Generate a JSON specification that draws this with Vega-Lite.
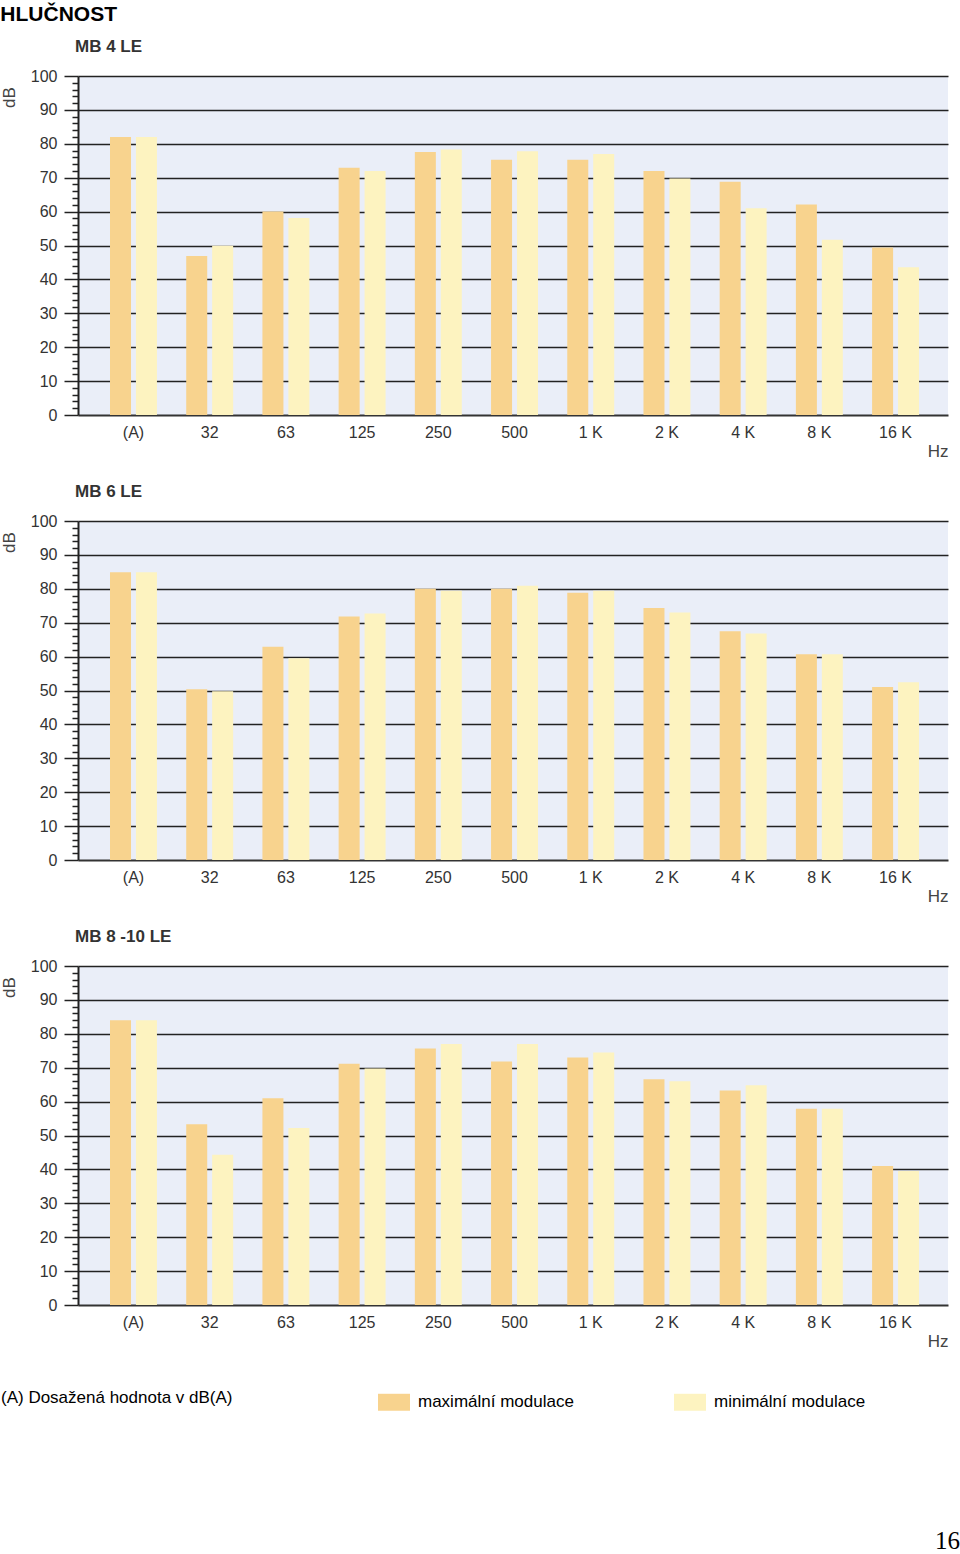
{
  "$schema": "https://vega.github.io/schema/vega-lite/v6.json",
  "padding": {"top": 4, "left": 0, "right": 0, "bottom": 0},
  "background": "#ffffff",
  "title": {"text": "HLUČNOST", "anchor": "start", "fontSize": 21, "fontWeight": "bold", "color": "#000000", "font": "Liberation Sans", "offset": 13},
  "spacing": 24,
  "datasets": {
    "noise": [
      {"p": "MB 4 LE", "f": "(A)", "s": "maximální modulace", "v": 82},
      {"p": "MB 4 LE", "f": "(A)", "s": "minimální modulace", "v": 82},
      {"p": "MB 4 LE", "f": "32", "s": "maximální modulace", "v": 46.9},
      {"p": "MB 4 LE", "f": "32", "s": "minimální modulace", "v": 49.9},
      {"p": "MB 4 LE", "f": "63", "s": "maximální modulace", "v": 60},
      {"p": "MB 4 LE", "f": "63", "s": "minimální modulace", "v": 58.1},
      {"p": "MB 4 LE", "f": "125", "s": "maximální modulace", "v": 72.9},
      {"p": "MB 4 LE", "f": "125", "s": "minimální modulace", "v": 72},
      {"p": "MB 4 LE", "f": "250", "s": "maximální modulace", "v": 77.6},
      {"p": "MB 4 LE", "f": "250", "s": "minimální modulace", "v": 78.3},
      {"p": "MB 4 LE", "f": "500", "s": "maximální modulace", "v": 75.3},
      {"p": "MB 4 LE", "f": "500", "s": "minimální modulace", "v": 77.8},
      {"p": "MB 4 LE", "f": "1 K", "s": "maximální modulace", "v": 75.3},
      {"p": "MB 4 LE", "f": "1 K", "s": "minimální modulace", "v": 77},
      {"p": "MB 4 LE", "f": "2 K", "s": "maximální modulace", "v": 72},
      {"p": "MB 4 LE", "f": "2 K", "s": "minimální modulace", "v": 69.8},
      {"p": "MB 4 LE", "f": "4 K", "s": "maximální modulace", "v": 68.8},
      {"p": "MB 4 LE", "f": "4 K", "s": "minimální modulace", "v": 61},
      {"p": "MB 4 LE", "f": "8 K", "s": "maximální modulace", "v": 62.1},
      {"p": "MB 4 LE", "f": "8 K", "s": "minimální modulace", "v": 51.7},
      {"p": "MB 4 LE", "f": "16 K", "s": "maximální modulace", "v": 49.4},
      {"p": "MB 4 LE", "f": "16 K", "s": "minimální modulace", "v": 43.6},
      {"p": "MB 6 LE", "f": "(A)", "s": "maximální modulace", "v": 84.9},
      {"p": "MB 6 LE", "f": "(A)", "s": "minimální modulace", "v": 84.9},
      {"p": "MB 6 LE", "f": "32", "s": "maximální modulace", "v": 50.4},
      {"p": "MB 6 LE", "f": "32", "s": "minimální modulace", "v": 49.8},
      {"p": "MB 6 LE", "f": "63", "s": "maximální modulace", "v": 62.9},
      {"p": "MB 6 LE", "f": "63", "s": "minimální modulace", "v": 59.5},
      {"p": "MB 6 LE", "f": "125", "s": "maximální modulace", "v": 71.8},
      {"p": "MB 6 LE", "f": "125", "s": "minimální modulace", "v": 72.7},
      {"p": "MB 6 LE", "f": "250", "s": "maximální modulace", "v": 80},
      {"p": "MB 6 LE", "f": "250", "s": "minimální modulace", "v": 79.4},
      {"p": "MB 6 LE", "f": "500", "s": "maximální modulace", "v": 80},
      {"p": "MB 6 LE", "f": "500", "s": "minimální modulace", "v": 80.9},
      {"p": "MB 6 LE", "f": "1 K", "s": "maximální modulace", "v": 78.8},
      {"p": "MB 6 LE", "f": "1 K", "s": "minimální modulace", "v": 79.4},
      {"p": "MB 6 LE", "f": "2 K", "s": "maximální modulace", "v": 74.3},
      {"p": "MB 6 LE", "f": "2 K", "s": "minimální modulace", "v": 73},
      {"p": "MB 6 LE", "f": "4 K", "s": "maximální modulace", "v": 67.5},
      {"p": "MB 6 LE", "f": "4 K", "s": "minimální modulace", "v": 66.8},
      {"p": "MB 6 LE", "f": "8 K", "s": "maximální modulace", "v": 60.7},
      {"p": "MB 6 LE", "f": "8 K", "s": "minimální modulace", "v": 60.7},
      {"p": "MB 6 LE", "f": "16 K", "s": "maximální modulace", "v": 51},
      {"p": "MB 6 LE", "f": "16 K", "s": "minimální modulace", "v": 52.4},
      {"p": "MB 8 -10 LE", "f": "(A)", "s": "maximální modulace", "v": 84},
      {"p": "MB 8 -10 LE", "f": "(A)", "s": "minimální modulace", "v": 84},
      {"p": "MB 8 -10 LE", "f": "32", "s": "maximální modulace", "v": 53.3},
      {"p": "MB 8 -10 LE", "f": "32", "s": "minimální modulace", "v": 44.3},
      {"p": "MB 8 -10 LE", "f": "63", "s": "maximální modulace", "v": 61},
      {"p": "MB 8 -10 LE", "f": "63", "s": "minimální modulace", "v": 52.2},
      {"p": "MB 8 -10 LE", "f": "125", "s": "maximální modulace", "v": 71.2},
      {"p": "MB 8 -10 LE", "f": "125", "s": "minimální modulace", "v": 69.8},
      {"p": "MB 8 -10 LE", "f": "250", "s": "maximální modulace", "v": 75.7},
      {"p": "MB 8 -10 LE", "f": "250", "s": "minimální modulace", "v": 77},
      {"p": "MB 8 -10 LE", "f": "500", "s": "maximální modulace", "v": 71.8},
      {"p": "MB 8 -10 LE", "f": "500", "s": "minimální modulace", "v": 77},
      {"p": "MB 8 -10 LE", "f": "1 K", "s": "maximální modulace", "v": 73},
      {"p": "MB 8 -10 LE", "f": "1 K", "s": "minimální modulace", "v": 74.5},
      {"p": "MB 8 -10 LE", "f": "2 K", "s": "maximální modulace", "v": 66.6},
      {"p": "MB 8 -10 LE", "f": "2 K", "s": "minimální modulace", "v": 66},
      {"p": "MB 8 -10 LE", "f": "4 K", "s": "maximální modulace", "v": 63.3},
      {"p": "MB 8 -10 LE", "f": "4 K", "s": "minimální modulace", "v": 64.8},
      {"p": "MB 8 -10 LE", "f": "8 K", "s": "maximální modulace", "v": 57.9},
      {"p": "MB 8 -10 LE", "f": "8 K", "s": "minimální modulace", "v": 57.9},
      {"p": "MB 8 -10 LE", "f": "16 K", "s": "maximální modulace", "v": 41},
      {"p": "MB 8 -10 LE", "f": "16 K", "s": "minimální modulace", "v": 39.5}
    ]
  },
  "vconcat": [
    {
      "title": {"text": "MB 4 LE", "anchor": "start", "frame": "group", "fontSize": 17, "fontWeight": "bold", "color": "#333333", "offset": 12, "dx": -3},
      "width": 870, "height": 339,
      "view": {"fill": "#eaeef8", "stroke": null},
      "data": {"name": "noise"},
      "transform": [{"filter": "datum.p === 'MB 4 LE'"}],
      "mark": {"type": "bar"},
      "encoding": {
        "x": {"field": "f", "type": "ordinal", "sort": ["(A)", "32", "63", "125", "250", "500", "1 K", "2 K", "4 K", "8 K", "16 K"], "scale": {"paddingInner": 0.384, "paddingOuter": 0.4, "align": 0.525}, "axis": {"title": "Hz"}},
        "xOffset": {"field": "s", "type": "nominal", "sort": ["maximální modulace", "minimální modulace"], "scale": {"paddingInner": 0.19}},
        "y": {"field": "v", "type": "quantitative", "scale": {"domain": [0, 100], "nice": false}, "axis": {
          "title": "dB",
          "values": [0, 2, 4, 6, 8, 10, 12, 14, 16, 18, 20, 22, 24, 26, 28, 30, 32, 34, 36, 38, 40, 42, 44, 46, 48, 50, 52, 54, 56, 58, 60, 62, 64, 66, 68, 70, 72, 74, 76, 78, 80, 82, 84, 86, 88, 90, 92, 94, 96, 98, 100],
          "labelExpr": "datum.value % 10 === 0 ? datum.label : ''",
          "labelOverlap": false,
          "tickSize": {"condition": {"test": "datum.value % 10 === 0", "value": 14}, "value": 6},
          "grid": true,
          "gridOpacity": {"condition": {"test": "datum.value % 10 === 0 && datum.value > 0", "value": 1}, "value": 0}
        }},
        "color": {"field": "s", "type": "nominal", "scale": {"domain": ["maximální modulace", "minimální modulace"], "range": ["#f8d38e", "#fdf3c0"]}, "legend": {"title": "(A) Dosažená hodnota v dB(A)"}}
      }
    },
    {
      "title": {"text": "MB 6 LE", "anchor": "start", "frame": "group", "fontSize": 17, "fontWeight": "bold", "color": "#333333", "offset": 12, "dx": -3},
      "width": 870, "height": 339,
      "view": {"fill": "#eaeef8", "stroke": null},
      "data": {"name": "noise"},
      "transform": [{"filter": "datum.p === 'MB 6 LE'"}],
      "mark": {"type": "bar"},
      "encoding": {
        "x": {"field": "f", "type": "ordinal", "sort": ["(A)", "32", "63", "125", "250", "500", "1 K", "2 K", "4 K", "8 K", "16 K"], "scale": {"paddingInner": 0.384, "paddingOuter": 0.4, "align": 0.525}, "axis": {"title": "Hz"}},
        "xOffset": {"field": "s", "type": "nominal", "sort": ["maximální modulace", "minimální modulace"], "scale": {"paddingInner": 0.19}},
        "y": {"field": "v", "type": "quantitative", "scale": {"domain": [0, 100], "nice": false}, "axis": {
          "title": "dB",
          "values": [0, 2, 4, 6, 8, 10, 12, 14, 16, 18, 20, 22, 24, 26, 28, 30, 32, 34, 36, 38, 40, 42, 44, 46, 48, 50, 52, 54, 56, 58, 60, 62, 64, 66, 68, 70, 72, 74, 76, 78, 80, 82, 84, 86, 88, 90, 92, 94, 96, 98, 100],
          "labelExpr": "datum.value % 10 === 0 ? datum.label : ''",
          "labelOverlap": false,
          "tickSize": {"condition": {"test": "datum.value % 10 === 0", "value": 14}, "value": 6},
          "grid": true,
          "gridOpacity": {"condition": {"test": "datum.value % 10 === 0 && datum.value > 0", "value": 1}, "value": 0}
        }},
        "color": {"field": "s", "type": "nominal", "scale": {"domain": ["maximální modulace", "minimální modulace"], "range": ["#f8d38e", "#fdf3c0"]}, "legend": {"title": "(A) Dosažená hodnota v dB(A)"}}
      }
    },
    {
      "title": {"text": "MB 8 -10 LE", "anchor": "start", "frame": "group", "fontSize": 17, "fontWeight": "bold", "color": "#333333", "offset": 12, "dx": -3},
      "width": 870, "height": 339,
      "view": {"fill": "#eaeef8", "stroke": null},
      "data": {"name": "noise"},
      "transform": [{"filter": "datum.p === 'MB 8 -10 LE'"}],
      "mark": {"type": "bar"},
      "encoding": {
        "x": {"field": "f", "type": "ordinal", "sort": ["(A)", "32", "63", "125", "250", "500", "1 K", "2 K", "4 K", "8 K", "16 K"], "scale": {"paddingInner": 0.384, "paddingOuter": 0.4, "align": 0.525}, "axis": {"title": "Hz"}},
        "xOffset": {"field": "s", "type": "nominal", "sort": ["maximální modulace", "minimální modulace"], "scale": {"paddingInner": 0.19}},
        "y": {"field": "v", "type": "quantitative", "scale": {"domain": [0, 100], "nice": false}, "axis": {
          "title": "dB",
          "values": [0, 2, 4, 6, 8, 10, 12, 14, 16, 18, 20, 22, 24, 26, 28, 30, 32, 34, 36, 38, 40, 42, 44, 46, 48, 50, 52, 54, 56, 58, 60, 62, 64, 66, 68, 70, 72, 74, 76, 78, 80, 82, 84, 86, 88, 90, 92, 94, 96, 98, 100],
          "labelExpr": "datum.value % 10 === 0 ? datum.label : ''",
          "labelOverlap": false,
          "tickSize": {"condition": {"test": "datum.value % 10 === 0", "value": 14}, "value": 6},
          "grid": true,
          "gridOpacity": {"condition": {"test": "datum.value % 10 === 0 && datum.value > 0", "value": 1}, "value": 0}
        }},
        "color": {"field": "s", "type": "nominal", "scale": {"domain": ["maximální modulace", "minimální modulace"], "range": ["#f8d38e", "#fdf3c0"]}, "legend": {"title": "(A) Dosažená hodnota v dB(A)"}}
      }
    },
    {
      "title": {"text": "16", "orient": "bottom", "anchor": "end", "frame": "group", "font": "Liberation Serif", "fontSize": 25, "fontWeight": "normal", "color": "#000000", "offset": 10},
      "width": 882, "height": 146,
      "view": {"fill": null, "stroke": null},
      "data": {"values": [{"t": ""}]},
      "mark": {"type": "text"},
      "encoding": {"text": {"field": "t"}}
    }
  ],
  "config": {
    "font": "Liberation Sans",
    "view": {"stroke": null},
    "axisX": {
      "labelAngle": 0, "labelFontSize": 16, "labelColor": "#333333", "labelPadding": 9,
      "ticks": false, "domainColor": "#333333", "domainWidth": 2, "grid": false,
      "titleAnchor": "end", "titleFontSize": 17, "titleFontWeight": "normal", "titleColor": "#444444", "titlePadding": 3
    },
    "axisY": {
      "labelFontSize": 16, "labelColor": "#333333", "labelPadding": 7,
      "tickColor": "#222222", "tickWidth": 1.5,
      "gridColor": "#222222", "gridWidth": 1.5,
      "domainColor": "#222222", "domainWidth": 2,
      "titleFontSize": 17, "titleFontWeight": "normal", "titleColor": "#444444", "titlePadding": 12,
      "titleY": 21, "titleAlign": "center"
    },
    "legend": {
      "orient": "none", "legendX": -77, "legendY": 1310,
      "direction": "horizontal",
      "titleOrient": "left", "titleFontSize": 17, "titleFontWeight": "normal", "titleColor": "#000000", "titlePadding": 145, "titleLimit": 400,
      "labelFontSize": 17, "labelColor": "#000000", "labelOffset": 8, "labelLimit": 300,
      "symbolType": "M-1,-0.53H1V0.53H-1Z", "symbolSize": 1024, "symbolStrokeWidth": 0, "symbolOpacity": 1,
      "columnPadding": 100
    }
  }
}
